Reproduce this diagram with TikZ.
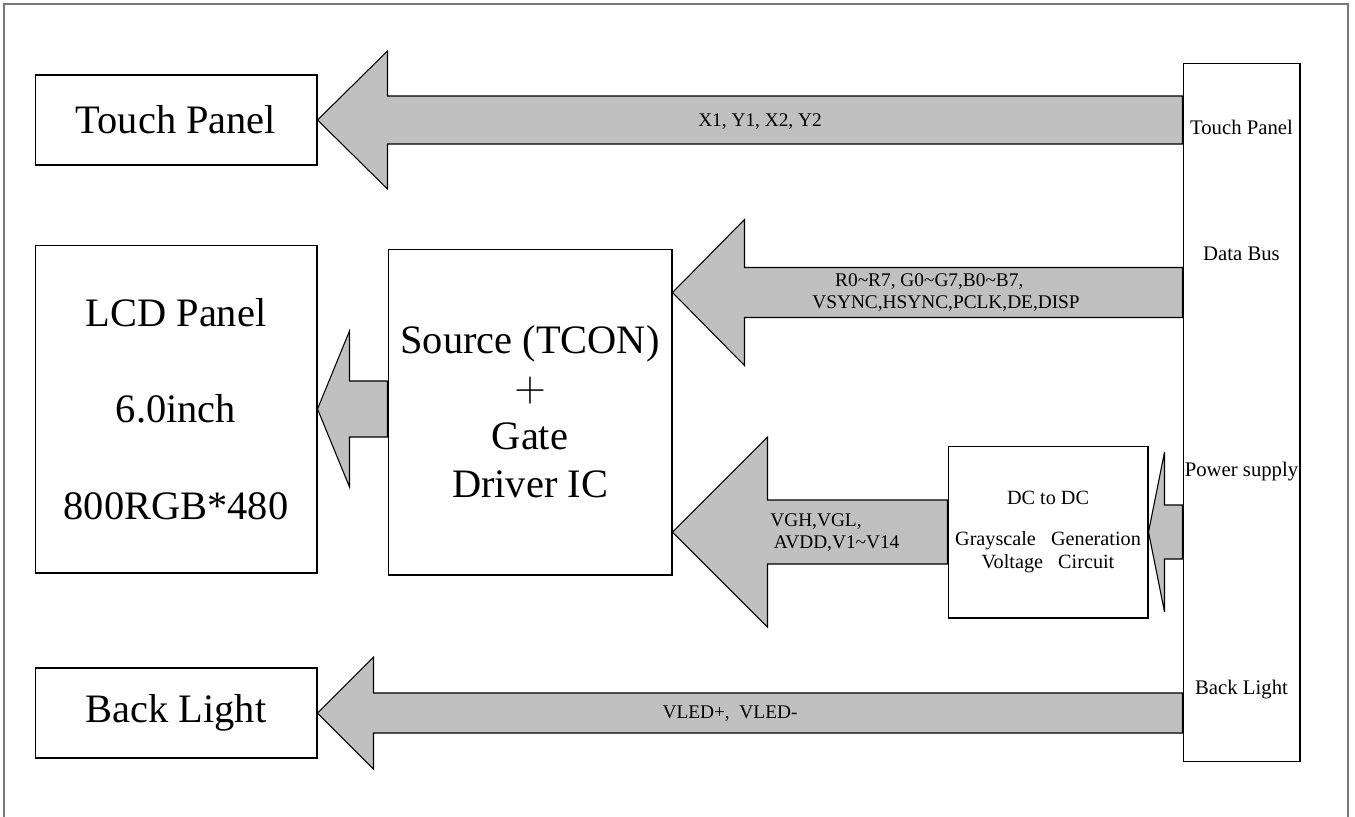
\documentclass[tikz,border=0pt]{standalone}
\usepackage{fontspec}
\setmainfont{Liberation Serif}
\usetikzlibrary{calc}
\definecolor{arrowgray}{RGB}{192,192,192}
\definecolor{framegray}{RGB}{120,120,120}

% tip, tail, shaft half height, head half height, head length
\newcommand{\fatarrow}[5]{%
  \draw[fat] (#1) -- ($(#1)+(#5,-#4)$) -- ($(#1)+(#5,-#3)$) -- ($(#2)+(0,-#3)$)
    -- ($(#2)+(0,#3)$) -- ($(#1)+(#5,#3)$) -- ($(#1)+(#5,#4)$) -- cycle;}

\begin{document}
\begin{tikzpicture}[x=0.02cm, y=-0.02cm,
    block/.style={draw, line width=0.6pt, inner sep=0pt, align=center},
    fat/.style={draw, fill=arrowgray, line width=0.6pt, line join=miter},
    bigtext/.style={font=\fontsize{23}{28}\selectfont},
    buslabel/.style={font=\fontsize{11.8}{14}\selectfont, inner sep=0pt},
    siglabel/.style={font=\fontsize{11}{12.5}\selectfont, align=left, inner sep=0pt}]

    \useasboundingbox (0,0) rectangle (1355,816);
    \clip (0,0) rectangle (1355,816);
    \draw[framegray, line width=1.2pt] (4,4) rectangle (1348,830);

    % blocks
    \node[block, bigtext, minimum width=5.64cm, minimum height=1.8cm]
        (touch) at (176,120) {Touch Panel};
    \node[block, font=\fontsize{23}{55}\selectfont, minimum width=5.64cm, minimum height=6.56cm]
        (lcd) at (176,409) {LCD Panel\\6.0inch\\800RGB*480};
    \node[block, bigtext, minimum width=5.64cm, minimum height=1.8cm]
        (backlight) at (176,713) {Back Light};
    \node[block, font=\fontsize{23}{27.3}\selectfont, minimum width=5.68cm, minimum height=6.52cm]
        (tcon) at (530,412) {Source (TCON)\\$+$\\Gate\\Driver IC};
    \node[block, font=\fontsize{11.5}{13.2}\selectfont, minimum width=4cm, minimum height=3.44cm]
        (dcdc) at (1048,532) {DC to DC\\[10pt]Grayscale\ \ \ Generation\\Voltage\ \ \ Circuit};
    \node[block, minimum width=2.34cm, minimum height=13.98cm]
        (bus) at (1241.5,412.5) {};

    % anchor points of the arrows
    \coordinate (datatip) at ($(tcon.north east)+(0,44)$);
    \coordinate (datatail) at (bus.west |- datatip);
    \coordinate (touchtail) at (bus.west |- touch.east);
    \coordinate (lighttail) at (bus.west |- backlight.east);
    \coordinate (powertail) at (bus.west |- dcdc.east);
    \coordinate (vghtip) at (tcon.east |- dcdc.west);
    \coordinate (lcdtail) at (tcon.west |- lcd.east);

    \fatarrow{touch.east}{touchtail}{24}{69}{70}
    \fatarrow{datatip}{datatail}{25}{73}{72}
    \fatarrow{vghtip}{dcdc.west}{32}{95}{95}
    \fatarrow{lcd.east}{lcdtail}{28}{78}{32}
    \fatarrow{dcdc.east}{powertail}{27}{80}{16}
    \fatarrow{backlight.east}{lighttail}{20}{56}{56}

    % signal labels
    \node[siglabel] (xylabel) at (760,122) {X1, Y1, X2, Y2};
    \node[siglabel, anchor=west] (rgblabel) at (812,293)
        {\hspace*{13pt}R0\textasciitilde R7, G0\textasciitilde G7,B0\textasciitilde B7,\\VSYNC,HSYNC,PCLK,DE,DISP};
    \node[siglabel, anchor=west] (vghlabel) at (770,533) {VGH,VGL,\\\hspace*{2pt}AVDD,V1\textasciitilde V14};
    \node[siglabel] (vledlabel) at (730,714) {VLED+,\ \ VLED-};

    % bus labels
    \node[buslabel] (bustouch) at (bus.center |- 0,127) {Touch Panel};
    \node[buslabel] (busdata) at (bus.center |- 0,254) {Data Bus};
    \node[buslabel] (buspower) at (bus.center |- 0,472) {Power supply};
    \node[buslabel] (buslight) at (bus.center |- 0,690) {Back Light};
\end{tikzpicture}
\end{document}
